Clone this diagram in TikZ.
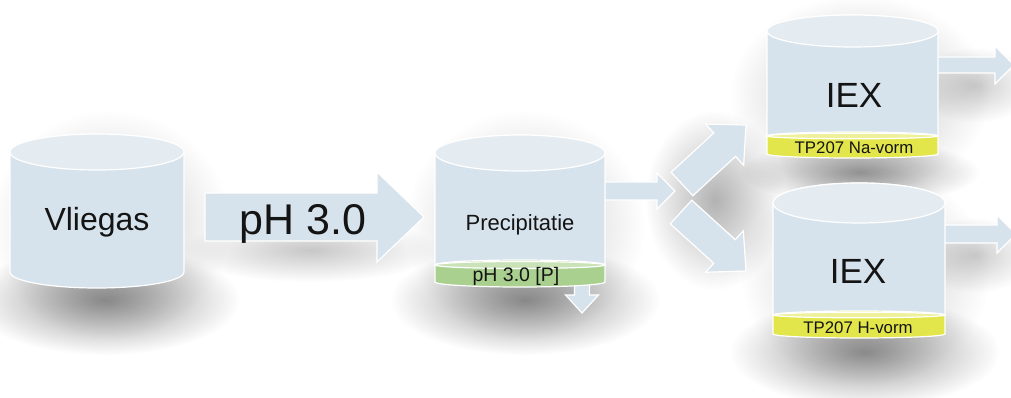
\documentclass[tikz,border=0pt]{standalone}
\usepackage{fontspec}
\setmainfont{Liberation Sans}
\usetikzlibrary{calc,fadings}
\tikzfading[name=softblob, inner color=transparent!0, outer color=transparent!100]
\definecolor{cylbodyc}{HTML}{D7E3EC}
\definecolor{cyltopc}{HTML}{E4ECF2}
\definecolor{arrfill}{HTML}{D7E3EC}
\definecolor{grnband}{HTML}{A9D08E}
\definecolor{grntop}{HTML}{C9E2B8}
\definecolor{ylwband}{HTML}{E3E64A}
\definecolor{ylwtop}{HTML}{EEF09A}
\definecolor{txt}{HTML}{141414}
\tikzset{
  outl/.style={draw=white, line width=1.2pt},
  shadowblob/.style={fill=black, path fading=softblob, opacity=#1},
  big/.style={font=\fontsize{#1}{#1}\selectfont, text=txt, inner sep=0pt, anchor=base},
}
% x1, x2, ytop, ybot, rytop, rybot
\newcommand\drawcyl[6]{%
  \pgfmathsetmacro\rx{(#2-#1)/2}%
  \pgfmathsetmacro\cx{(#2+#1)/2}%
  \fill[cylbodyc, outl] (#1,#3) -- (#1,#4) arc[start angle=180,end angle=0,x radius=\rx,y radius=#6] -- (#2,#3) arc[start angle=0,end angle=-180,x radius=\rx,y radius=#5] -- cycle;
  \fill[cyltopc, outl] (\cx,#3) ellipse[x radius=\rx, y radius=#5];
}
% x1, x2, ytop, ybot, ry, body colour, top colour
\newcommand\drawband[7]{%
  \pgfmathsetmacro\rx{(#2-#1)/2}%
  \pgfmathsetmacro\cx{(#2+#1)/2}%
  \fill[#6, outl] (#1,#3) -- (#1,#4) arc[start angle=180,end angle=0,x radius=\rx,y radius=#5] -- (#2,#3) arc[start angle=0,end angle=-180,x radius=\rx,y radius=#5] -- cycle;
  \fill[#7, outl] (\cx,#3) ellipse[x radius=\rx, y radius=#5*0.7];
}
% start, tip, body half width, head half width, head length
\newcommand\blockarrow[5]{%
  \path coordinate (ba) at (#1) coordinate (bb) at (#2);
  \path coordinate (bc) at ($(bb)!#5!(ba)$);
  \fill[arrfill, outl] ($(ba)!#3!90:(bb)$) -- ($(bc)!#3!90:(bb)$) -- ($(bc)!#4!90:(bb)$) -- (bb) -- ($(bc)!#4!-90:(bb)$) -- ($(bc)!#3!-90:(bb)$) -- ($(ba)!#3!-90:(bb)$) -- cycle;
}
\begin{document}
\begin{tikzpicture}[x=1pt,y=-1pt]
\useasboundingbox (0,0) rectangle (1011,398);
\fill[white] (0,0) rectangle (1011,398);
% shadows
\fill[shadowblob=.42] (105,300) ellipse[x radius=135, y radius=55];
\fill[shadowblob=.22] (110,225) ellipse[x radius=120, y radius=115];
\fill[shadowblob=.22] (310,250) ellipse[x radius=130, y radius=32];
\fill[shadowblob=.42] (525,300) ellipse[x radius=135, y radius=55];
\fill[shadowblob=.22] (525,225) ellipse[x radius=120, y radius=115];
\fill[shadowblob=.3] (715,200) ellipse[x radius=70, y radius=90];
\fill[shadowblob=.25] (860,95) ellipse[x radius=130, y radius=100];
\fill[shadowblob=.38] (860,172) ellipse[x radius=120, y radius=32];
\fill[shadowblob=.2] (975,85) ellipse[x radius=60, y radius=38];
\fill[shadowblob=.42] (865,352) ellipse[x radius=135, y radius=55];
\fill[shadowblob=.22] (865,275) ellipse[x radius=125, y radius=110];
\fill[shadowblob=.2] (975,255) ellipse[x radius=60, y radius=38];
% arrows
\blockarrow{205,217}{424,217}{24pt}{45pt}{47pt}
\blockarrow{597,191}{675,191}{9pt}{18pt}{18pt}
\blockarrow{681,212}{746,271}{16pt}{28pt}{29pt}
\blockarrow{682,184}{746,125}{16pt}{28pt}{29pt}
\blockarrow{935,65}{1014,65}{8pt}{19pt}{19pt}
\blockarrow{938,234}{1016,234}{9pt}{19pt}{19pt}
\blockarrow{582,280}{582,313}{7.5pt}{16.5pt}{18pt}
% cylinders
\drawcyl{10}{184}{152}{272}{18}{16}
\drawcyl{435}{605}{153}{265}{18}{5}
\drawband{435}{605}{265}{282}{5}{grnband}{grntop}
\drawcyl{767}{938}{31}{136}{16}{4}
\drawband{767}{938}{136}{154}{4}{ylwband}{ylwtop}
\drawcyl{773}{945}{203}{315}{20}{4}
\drawband{773}{945}{315}{334}{4}{ylwband}{ylwtop}
% texts
\node[big=32] (vliegas) at (97,230) {Vliegas};
\node[big=43] (ph) at (303,234) {pH 3.0};
\node[big=22] (prec) at (520,230) {Precipitatie};
\node[big=19.5] (precband) at (516,281) {pH 3.0 [P]};
\node[big=35] (iex1) at (854,108) {IEX};
\node[big=16.8] (na) at (854,154) {TP207 Na-vorm};
\node[big=35] (iex2) at (858,283) {IEX};
\node[big=16.8] (hv) at (858,333) {TP207 H-vorm};
\end{tikzpicture}
\end{document}
